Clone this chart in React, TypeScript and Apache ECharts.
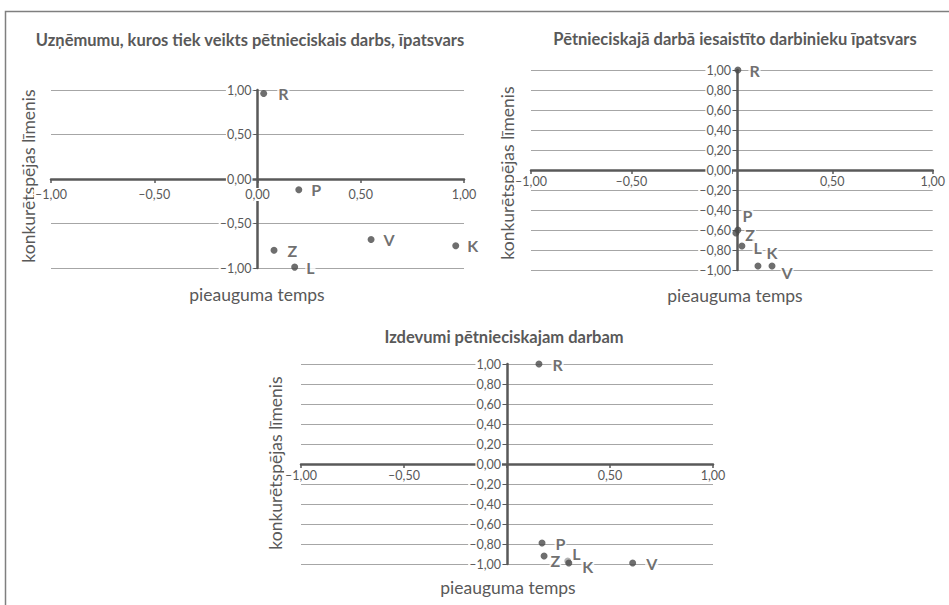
import React, { useEffect, useRef } from "react";
import * as echarts from "echarts";

// ---- data ----
const titles = [
  "Uzņēmumu, kuros tiek veikts pētnieciskais darbs, īpatsvars",
  "Pētnieciskajā darbā iesaistīto darbinieku īpatsvars",
  "Izdevumi pētnieciskajam darbam",
];
const xAxisName = "pieauguma temps";
const yAxisName = "konkurētspējas līmenis";

const names1 = ["R", "P", "Z", "L", "V", "K"];
const x1 = [0.03, 0.2, 0.08, 0.18, 0.55, 0.96];
const y1 = [0.96, -0.12, -0.8, -0.99, -0.68, -0.75];

const names2 = ["R", "P", "Z", "L", "K", "V"];
const x2 = [0.03, 0.03, 0.02, 0.05, 0.13, 0.2];
const y2 = [1.0, -0.6, -0.63, -0.76, -0.96, -0.96];

const names3 = ["R", "P", "Z", "L", "K", "V"];
const x3 = [0.155, 0.17, 0.18, 0.295, 0.3, 0.61];
const y3 = [1.0, -0.79, -0.92, -0.97, -0.99, -0.99];

const yInterval = [0.5, 0.2, 0.2];

// ---- styling / layout ----
const FONT = "Lato, 'Open Sans', sans-serif";
const TEXT = "#595959";
const labelOffsets = [
  [[5, 0], [3, 0], [4, 0], [2, 0], [3, 0], [2, 0]],
  [[2, 0], [-5, -15], [0, 1], [2, 1], [-1, -14], [0, 6]],
  [[4, 0], [4, 0], [-3, 4], [-5, -8], [4, 3], [4, 0]],
];
const grids = [
  { left: 51, top: 90, width: 413, height: 178 },
  { left: 531, top: 70, width: 412, height: 200 },
  { left: 301, top: 364, width: 412, height: 200 },
];
const titlePos = [
  [250, 40],
  [735, 39],
  [504, 337],
];
const yNamePos = [
  [28, 176],
  [507, 173],
  [275, 463],
];
const xNamePos = [
  [257, 294],
  [735, 295],
  [508, 587],
];
const xLabelMargin = [9, 5, 5];

const fmt = (v: number) => {
  const a = Math.abs(v).toFixed(2).replace(".", ",");
  return v < -1e-9 ? "–" + a : a;
};

export default function App() {
  const ref = useRef<HTMLDivElement>(null);
  useEffect(() => {
    document.body.style.margin = "0";
    const chart = echarts.init(ref.current!, undefined, { renderer: "svg" });
    const sets = [
      [names1, x1, y1],
      [names2, x2, y2],
      [names3, x3, y3],
    ] as [string[], number[], number[]][];

    const xAxes = sets.map((_, i) => ({
      type: "value",
      gridIndex: i,
      min: -1,
      max: 1,
      interval: 0.5,
      position: "bottom",
      offset: -grids[i].height / 2,
      axisLine: { onZero: false, lineStyle: { color: TEXT, width: 2.5 } },
      axisTick: { show: true, length: 4, lineStyle: { color: TEXT, width: 1.5 } },
      splitLine: { show: false },
      axisLabel: {
        color: TEXT,
        fontFamily: FONT,
        fontSize: 12.5,
        margin: xLabelMargin[i],
        backgroundColor: "#fff",
        padding: [0, 1],
        formatter: (v: number) => (i > 0 && Math.abs(v) < 1e-9 ? "" : fmt(v)),
      },
    }));
    const yAxes = sets.map((_, i) => ({
      type: "value",
      gridIndex: i,
      min: -1,
      max: 1,
      interval: yInterval[i],
      position: "left",
      offset: -grids[i].width / 2,
      axisLine: { onZero: false, lineStyle: { color: TEXT, width: 2.5 } },
      axisTick: { show: true, length: 4, lineStyle: { color: TEXT, width: 1 } },
      splitLine: { show: true, lineStyle: { color: "#a6a6a6", width: 1 } },
      axisLabel: {
        color: TEXT,
        fontFamily: FONT,
        fontSize: 12.5,
        margin: 5,
        backgroundColor: "#fff",
        padding: [0, 1],
        formatter: (v: number) => fmt(v),
      },
    }));
    const series = sets.map(([n, xs, ys], i) => ({
      type: "scatter",
      xAxisIndex: i,
      yAxisIndex: i,
      symbolSize: 7,
      itemStyle: { color: "#4a4a4a" },
      label: {
        show: true,
        position: "right",
        distance: 5,
        formatter: (p: any) => p.name,
        color: "#4a4a4a",
        fontFamily: FONT,
        fontWeight: "bold",
        fontSize: 16,
        backgroundColor: "#fff",
        padding: [0, 1],
      },
      data: n.map((name, k) => ({
        name,
        value: [xs[k], ys[k]],
        itemStyle: i === 2 && name === "L" ? { color: "#a0a0a0" } : undefined,
        label: { offset: labelOffsets[i][k] },
      })),
    }));

    const graphic: any[] = [
      {
        type: "polyline",
        shape: { points: [[5.5, 605], [5.5, 11.5], [949, 11.5]] },
        style: { stroke: "#7f7f7f", lineWidth: 1.5, fill: null },
      },
    ];
    titles.forEach((t, i) => {
      graphic.push({
        type: "text",
        x: titlePos[i][0],
        y: titlePos[i][1],
        style: {
          text: t,
          align: "center",
          verticalAlign: "middle",
          font: `bold 16.5px ${FONT}`,
          fill: TEXT,
        },
      });
      graphic.push({
        type: "text",
        x: yNamePos[i][0],
        y: yNamePos[i][1],
        rotation: Math.PI / 2,
        style: {
          text: yAxisName,
          align: "center",
          verticalAlign: "middle",
          font: `17.5px ${FONT}`,
          fill: TEXT,
        },
      });
      graphic.push({
        type: "text",
        x: xNamePos[i][0],
        y: xNamePos[i][1],
        style: {
          text: xAxisName,
          align: "center",
          verticalAlign: "middle",
          font: `17.5px ${FONT}`,
          fill: TEXT,
        },
      });
    });

    chart.setOption({
      animation: false,
      backgroundColor: "#fff",
      grid: grids.map((g) => ({ ...g, containLabel: false })),
      xAxis: xAxes,
      yAxis: yAxes,
      series,
      graphic,
    } as any);
    return () => chart.dispose();
  }, []);
  return <div ref={ref} style={{ width: 949, height: 605 }} />;
}
